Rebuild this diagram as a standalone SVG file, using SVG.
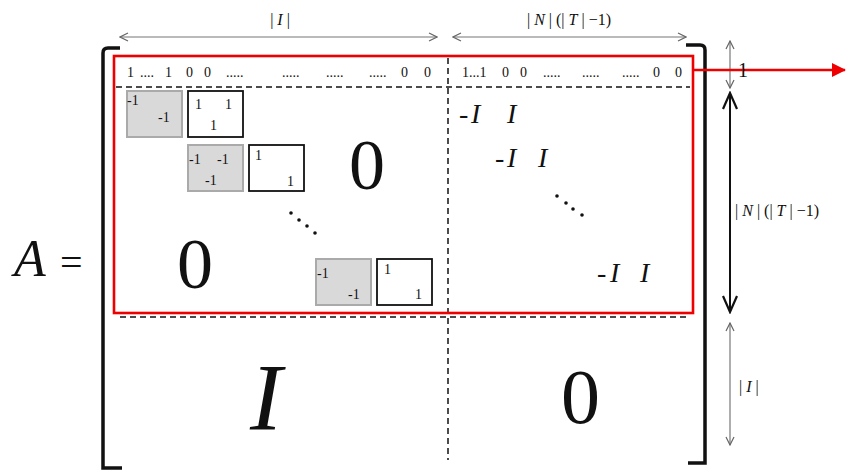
<svg xmlns="http://www.w3.org/2000/svg" width="846" height="476" viewBox="0 0 846 476" font-family="Liberation Serif, DejaVu Serif, serif">
<style>
text{fill:#111}
.it{font-style:italic}
.sm{font-size:14px}
.row{font-size:14px}
.dash{stroke:#111;stroke-width:1.5;stroke-dasharray:6 4;fill:none}
.gbox{fill:#d9d9d9;stroke:#aaa;stroke-width:2}
.wbox{fill:#fff;stroke:#111;stroke-width:1.8}
.thin{stroke:#777;stroke-width:1.2;fill:none}
.brk{stroke:#111;stroke-width:3.5;fill:none}
.mi{font-size:28px}
</style>
<defs>
<marker id="oa" viewBox="0 0 10 10" refX="9" refY="5" markerWidth="10" markerHeight="10" markerUnits="userSpaceOnUse" orient="auto-start-reverse">
<path d="M1,1 L9,5 L1,9" fill="none" stroke="#666" stroke-width="1.2"/>
</marker>
<marker id="ob" viewBox="0 0 20 20" refX="18" refY="10" markerWidth="20" markerHeight="20" markerUnits="userSpaceOnUse" orient="auto-start-reverse">
<path d="M2,3 L18,10 L2,17" fill="none" stroke="#111" stroke-width="2.2"/>
</marker>
<marker id="ra" viewBox="0 0 14 14" refX="13" refY="7" markerWidth="14" markerHeight="14" markerUnits="userSpaceOnUse" orient="auto">
<path d="M0,0 L14,7 L0,14 Z" fill="#e00"/>
</marker>
</defs>

<g id="lhs">
<text x="14" y="276" class="it" font-size="52">A</text>
<text x="60" y="276" font-size="40">=</text>
</g>

<g id="brackets">
<path class="brk" d="M120,48 L108,48 Q103,48 103,53 L103,468 L122,468"/>
<path class="brk" d="M686,45 L700,45 Q705,45 705,50 L705,463 L688,463"/>
</g>

<g id="dashed-lines">
<line class="dash" x1="116" y1="87" x2="690" y2="87"/>
<line class="dash" x1="120" y1="317" x2="690" y2="317"/>
<line class="dash" x1="448" y1="58" x2="448" y2="460"/>
</g>

<g id="row1">
<text class="row" x="127" y="77">1</text>
<text class="row" x="140" y="77">....</text>
<text class="row" x="165" y="77">1</text>
<text class="row" x="186" y="77">0</text>
<text class="row" x="204" y="77">0</text>
<text class="row" x="226" y="77">.....</text>
<text class="row" x="282" y="77">.....</text>
<text class="row" x="326" y="77">.....</text>
<text class="row" x="369" y="77">.....</text>
<text class="row" x="401" y="77">0</text>
<text class="row" x="424" y="77">0</text>
<text class="row" x="462" y="77">1...1</text>
<text class="row" x="502" y="77">0</text>
<text class="row" x="520" y="77">0</text>
<text class="row" x="543" y="77">.....</text>
<text class="row" x="582" y="77">.....</text>
<text class="row" x="622" y="77">.....</text>
<text class="row" x="653" y="77">0</text>
<text class="row" x="675" y="77">0</text>
</g>

<g id="block1">
<rect class="gbox" x="127" y="91" width="55" height="46"/>
<rect class="wbox" x="188" y="91" width="55" height="46"/>
<text class="sm" x="127" y="105">-1</text>
<text class="sm" x="158" y="122">-1</text>
<text class="sm" x="195" y="109">1</text>
<text class="sm" x="225" y="109">1</text>
<text class="sm" x="210" y="130">1</text>
</g>

<g id="block2">
<rect class="gbox" x="188" y="145" width="55" height="46"/>
<rect class="wbox" x="249" y="145" width="55" height="46"/>
<text class="sm" x="189" y="164">-1</text>
<text class="sm" x="217" y="164">-1</text>
<text class="sm" x="205" y="185">-1</text>
<text class="sm" x="255" y="160">1</text>
<text class="sm" x="287" y="186">1</text>
</g>

<g id="block3">
<rect class="gbox" x="316" y="259" width="55" height="46"/>
<rect class="wbox" x="377" y="259" width="55" height="46"/>
<text class="sm" x="317" y="278">-1</text>
<text class="sm" x="348" y="299">-1</text>
<text class="sm" x="384" y="274">1</text>
<text class="sm" x="415" y="299">1</text>
</g>

<g id="dots-left" fill="#111">
<circle cx="291" cy="213" r="1.8"/>
<circle cx="299" cy="220" r="1.8"/>
<circle cx="307" cy="226" r="1.8"/>
<circle cx="315" cy="233" r="1.8"/>
</g>
<g id="dots-right" fill="#111">
<circle cx="557" cy="196" r="1.8"/>
<circle cx="566" cy="203" r="1.8"/>
<circle cx="573" cy="209" r="1.8"/>
<circle cx="582" cy="215" r="1.8"/>
</g>

<g id="zeros">
<text x="349" y="189" font-size="72">0</text>
<text x="177" y="288" font-size="72">0</text>
<text x="561" y="423" font-size="78">0</text>
</g>
<g id="bigI">
<text class="it" x="250" y="430" font-size="96">I</text>
</g>

<g id="minusI">
<text class="mi" x="459" y="123">-</text><text class="mi it" x="471" y="123">I</text><text class="mi it" x="507" y="123">I</text>
<text class="mi" x="495" y="167">-</text><text class="mi it" x="507" y="167">I</text><text class="mi it" x="538" y="167">I</text>
<text class="mi" x="597" y="282">-</text><text class="mi it" x="610" y="282">I</text><text class="mi it" x="640" y="282">I</text>
</g>

<g id="redbox">
<rect x="114" y="56" width="579" height="257" fill="none" stroke="#e00" stroke-width="2.6"/>
</g>

<g id="connectors">
<line class="thin" x1="120" y1="37" x2="437" y2="37" marker-start="url(#oa)" marker-end="url(#oa)"/>
<line class="thin" x1="453" y1="37" x2="686" y2="37" marker-start="url(#oa)" marker-end="url(#oa)"/>
<line class="thin" x1="730" y1="41" x2="730" y2="88" marker-start="url(#oa)" marker-end="url(#oa)"/>
<line x1="730" y1="93" x2="730" y2="312" stroke="#111" stroke-width="2" marker-start="url(#ob)" marker-end="url(#ob)"/>
<line class="thin" x1="730" y1="323" x2="730" y2="445" marker-start="url(#oa)" marker-end="url(#oa)"/>
<line x1="693" y1="70" x2="845" y2="70" stroke="#e00" stroke-width="2.6" marker-end="url(#ra)"/>
</g>

<g id="labels">
<text x="280" y="25" font-size="16" text-anchor="middle">| <tspan class="it">I</tspan> |</text>
<text x="569" y="25" font-size="16" text-anchor="middle">| <tspan class="it">N</tspan> | (| <tspan class="it">T</tspan> | −1)</text>
<text x="738" y="77" font-size="20">1</text>
<text x="735" y="216" font-size="16">| <tspan class="it">N</tspan> | (| <tspan class="it">T</tspan> | −1)</text>
<text x="739" y="392" font-size="16">| <tspan class="it">I</tspan> |</text>
</g>
</svg>
